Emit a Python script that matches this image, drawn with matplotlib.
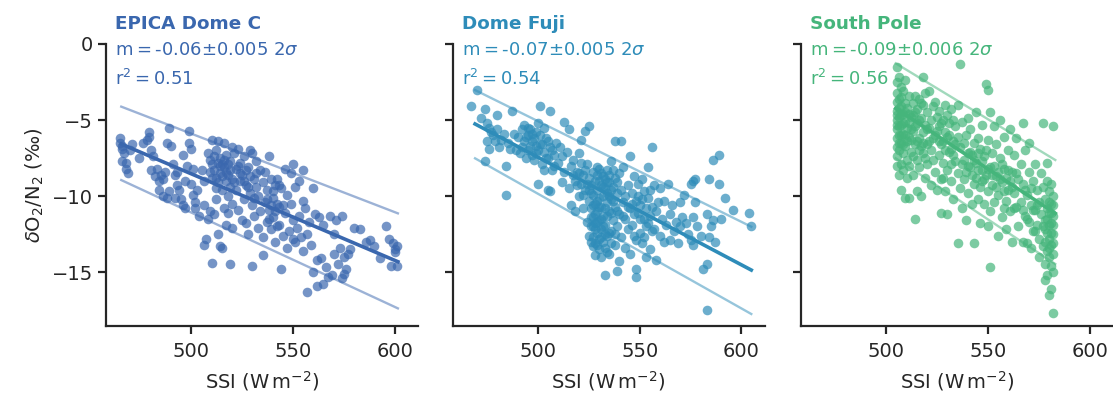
import numpy as np
import matplotlib
matplotlib.use("Agg")
from matplotlib import pyplot as plt

# ---- data ----
sites = ["EPICA Dome C", "Dome Fuji", "South Pole"]
colors = ["#3a67ae", "#2e8cb9", "#45b57b"]
slopes = ["-0.06", "-0.07", "-0.09"]
slope_err = ["0.005", "0.005", "0.006"]
r2 = ["0.51", "0.54", "0.56"]

# fit line and +-2 sigma lines: x ends, y ends
fit_x = [[465.5, 601.6], [469.0, 604.9], [504.6, 583.1]]
fit_y = [[-6.58, -14.32], [-5.26, -14.87], [-4.23, -11.14]]
upper_y = [[-4.12, -11.14], [-3.03, -12.02], [-1.27, -7.63]]
lower_y = [[-8.95, -17.39], [-7.52, -17.76], [-7.52, -14.47]]

edc_pts = [
    (465, -6.2), (465, -6.5), (466, -6.7), (466, -6.9), (467, -7.2), (466, -7.7), (468, -7.8), (468, -8.2),
    (469, -8.5), (470, -7.0), (471, -6.6), (474, -7.5),
    (476, -6.5), (478, -6.3), (479, -5.8), (479, -6.1), (480, -7.0), (481, -7.4), (480, -8.3), (482, -8.7),
    (483, -8.2), (484, -9.0), (485, -8.6), (486, -8.9), (487, -8.4), (484, -9.6), (486, -10.0), (488, -10.1),
    (489, -9.7), (489, -5.5), (490, -6.7), (488, -6.5), (491, -7.9), (492, -8.6), (493, -8.4), (493, -9.3),
    (494, -9.6), (495, -10.2), (496, -10.6), (497, -10.8), (492, -10.1),
    (496, -7.3), (497, -9.0), (498, -8.0), (499, -5.7), (499, -6.5), (500, -6.9), (501, -8.2), (500, -9.2),
    (501, -9.9), (502, -10.4), (502, -10.8), (503, -9.6), (504, -11.3), (505, -8.3), (506, -9.0), (506, -10.6),
    (506, -13.2), (507, -12.8), (508, -11.5), (510, -14.4), (509, -11.0),
    (508, -7.2), (509, -7.6), (510, -6.3), (510, -7.9), (511, -8.3), (512, -7.0), (512, -8.8), (513, -9.1),
    (513, -6.4), (514, -7.5), (514, -8.5), (515, -9.6), (515, -7.9), (516, -6.5), (516, -8.1), (517, -9.0),
    (517, -7.3), (518, -10.0), (518, -8.6), (519, -7.7), (519, -9.4), (520, -6.8), (520, -8.9), (511, -11.2),
    (512, -10.2), (513, -12.5), (514, -13.3), (515, -13.4), (516, -10.8), (517, -11.9), (518, -11.1),
    (519, -14.5), (520, -12.1), (520, -10.5),
    (509, -8.4), (510, -8.8), (511, -7.4), (512, -9.5), (513, -7.8), (514, -8.0), (515, -8.7), (516, -7.6),
    (517, -8.4), (518, -7.9), (519, -8.3), (521, -9.1),
    (521, -7.2), (522, -8.2), (522, -9.6), (523, -6.9), (523, -10.9), (524, -7.8), (524, -9.0), (525, -8.6),
    (525, -11.6), (526, -7.4), (526, -10.2), (527, -9.3), (527, -11.8), (528, -8.1), (528, -12.5), (529, -9.8),
    (529, -7.0), (530, -7.2), (530, -10.6), (530, -14.6), (531, -8.9), (531, -11.3), (532, -7.7), (532, -9.4),
    (533, -10.0), (533, -12.1), (534, -8.3), (534, -11.0), (535, -9.1), (535, -12.7), (535, -13.9),
    (523, -8.0), (524, -8.5), (526, -9.0), (527, -8.3), (528, -9.4), (529, -8.7), (531, -10.1), (532, -8.5),
    (536, -8.4), (536, -10.4), (537, -9.6), (537, -11.7), (538, -7.4), (538, -10.9), (539, -8.9), (539, -12.2),
    (540, -10.1), (540, -11.4), (541, -9.3), (541, -13.0), (542, -8.9), (542, -12.0), (543, -10.7),
    (543, -11.9), (544, -9.5), (544, -14.8), (545, -10.6), (545, -12.6), (546, -8.2), (546, -11.1),
    (547, -9.9), (547, -13.4), (548, -12.3), (549, -10.5), (550, -7.9), (550, -11.6), (550, -12.8), (549, -8.5),
    (537, -10.2), (538, -11.5), (539, -10.6), (540, -9.7), (541, -11.0), (542, -10.5), (543, -9.3),
    (551, -9.4), (551, -13.0), (552, -12.1), (553, -9.0), (553, -11.3), (554, -12.7), (555, -8.3),
    (555, -10.3), (555, -13.6), (556, -10.8), (557, -12.5), (557, -16.3), (558, -11.7), (559, -13.2),
    (560, -9.5), (560, -15.0), (561, -11.2), (562, -14.2), (562, -15.9), (563, -11.4), (564, -14.1),
    (565, -15.8), (565, -11.9),
    (566, -14.7), (567, -15.3), (568, -11.3), (569, -15.2), (570, -13.8), (570, -12.5), (571, -11.6),
    (572, -14.5), (573, -13.4), (574, -15.4), (574, -11.3), (575, -14.0), (575, -15.1), (576, -14.8),
    (577, -13.8), (578, -13.5), (580, -12.1), (583, -12.2),
    (586, -13.0), (588, -12.9), (590, -13.3), (593, -14.1), (596, -12.0), (597, -12.8), (598, -14.6),
    (599, -13.1), (600, -13.5), (601, -14.6), (601, -13.3), (600, -13.7),
]

df_pts = [
    (467, -4.1), (470, -3.0), (472, -4.9), (474, -4.3), (475, -5.2), (475, -6.4), (476, -6.9), (477, -5.8),
    (474, -7.7), (476, -5.5), (478, -6.0), (479, -6.4), (480, -5.6), (481, -6.8), (480, -4.7),
    (482, -6.3), (483, -5.9), (484, -8.0), (484, -9.9), (485, -6.5), (486, -6.9), (487, -4.4), (488, -5.9),
    (489, -7.0), (490, -6.1), (491, -7.2), (492, -5.6), (493, -6.4), (494, -7.5), (495, -6.0), (496, -6.7),
    (497, -7.3), (498, -6.2), (499, -5.8), (500, -7.0), (501, -4.1), (500, -9.2), (500, -5.2), (502, -6.6),
    (502, -7.9), (503, -8.3), (504, -6.2), (505, -9.6), (505, -7.5), (506, -4.4), (506, -9.7), (507, -7.0),
    (508, -8.0), (509, -6.5), (510, -7.8),
    (492, -6.8), (494, -6.1), (495, -7.0), (496, -5.6), (497, -6.4), (498, -7.6), (499, -6.7), (501, -6.0),
    (503, -7.1), (504, -7.5), (506, -6.8), (507, -8.3),
    (493, -5.3), (495, -5.5), (497, -5.9), (499, -7.2), (501, -6.6), (503, -5.5), (505, -6.4), (508, -7.3),
    (511, -6.8), (512, -7.4), (512, -9.1), (513, -5.1), (513, -8.4), (514, -7.1), (515, -5.6), (515, -9.5),
    (516, -10.6), (516, -8.0), (517, -7.6), (518, -9.0), (518, -11.0), (519, -8.4), (520, -7.2), (520, -10.0),
    (521, -9.2), (521, -6.3), (522, -8.6), (522, -10.8), (523, -9.6), (523, -5.7), (524, -7.9), (524, -11.7),
    (525, -10.3), (525, -8.8), (525, -5.4),
    (517, -8.6), (519, -9.3), (520, -8.5), (521, -7.8), (522, -9.9), (523, -8.3), (524, -9.2), (525, -9.6),
    (526, -9.3), (526, -10.8), (526, -12.0), (527, -8.4), (527, -9.9), (527, -11.4), (527, -12.7), (528, -9.0),
    (528, -10.5), (528, -11.8), (528, -13.1), (529, -8.6), (529, -9.6), (529, -11.0), (529, -12.4), (530, -8.2),
    (530, -10.1), (530, -11.6), (530, -13.5), (531, -9.3), (531, -10.7), (531, -12.2), (532, -8.7),
    (532, -10.0), (532, -11.3), (532, -13.0), (533, -9.5), (533, -11.9), (533, -15.2), (534, -8.3),
    (534, -10.4), (534, -12.6), (535, -9.1), (535, -11.0), (535, -13.8), (536, -7.7), (536, -10.2),
    (536, -12.3), (537, -9.4), (537, -11.6), (538, -8.8), (538, -10.7), (538, -13.2), (539, -9.8),
    (539, -12.0), (540, -8.5), (540, -11.2), (540, -14.3), (538, -6.4), (541, -6.4), (539, -14.9),
    (526, -9.8), (527, -10.6), (528, -12.2), (529, -10.3), (530, -9.0), (530, -12.8), (531, -11.5),
    (532, -9.4), (533, -10.8), (533, -12.5), (534, -11.3), (535, -10.0), (536, -11.1), (537, -10.3),
    (538, -12.5), (539, -11.0), (526, -11.4), (527, -13.3), (528, -13.9), (529, -13.2),
    (525, -12.6), (526, -13.0), (527, -12.0), (528, -11.2), (529, -11.7), (530, -10.7), (531, -12.7),
    (532, -12.0), (533, -13.4), (534, -9.8), (535, -12.4), (536, -13.1), (531, -14.0), (534, -13.7),
    (529, -8.1), (531, -8.5), (533, -8.9), (535, -8.6), (537, -8.3), (539, -9.1), (536, -9.6), (534, -9.1),
    (541, -9.6), (541, -12.7), (542, -10.4), (542, -8.1), (543, -11.5), (543, -13.4), (544, -9.3),
    (544, -12.2), (545, -7.4), (545, -10.8), (545, -13.8), (546, -9.8), (546, -11.9), (547, -8.7),
    (547, -12.6), (548, -10.3), (548, -14.8), (548, -15.3), (549, -11.1), (549, -9.2), (550, -12.4),
    (550, -10.6), (551, -8.9), (551, -13.1), (552, -11.5), (552, -9.7), (553, -12.0), (553, -14.0),
    (554, -10.1), (554, -8.1), (555, -11.3), (555, -13.5), (556, -6.8), (556, -10.7),
    (542, -11.3), (543, -10.0), (544, -10.7), (546, -10.5), (547, -11.2), (549, -10.0), (550, -11.5),
    (551, -10.2), (552, -12.7), (553, -10.8), (554, -11.8), (556, -12.3), (555, -9.6), (548, -12.9),
    (557, -9.3), (557, -12.2), (558, -11.0), (558, -14.2), (559, -10.4), (560, -12.6), (560, -9.5),
    (561, -11.5), (562, -13.0), (562, -10.3), (563, -11.9), (564, -9.2), (565, -11.2), (565, -12.9),
    (566, -10.6), (567, -12.3), (568, -11.7), (569, -13.1), (570, -10.4), (570, -12.0), (571, -11.4),
    (572, -9.9), (573, -11.8), (574, -12.5), (575, -9.2), (575, -12.9), (576, -11.4), (576, -13.2),
    (577, -10.4),
    (578, -12.0), (580, -12.6), (581, -14.8), (583, -14.5), (583, -17.5), (584, -12.7), (584, -8.9),
    (585, -12.0), (586, -11.6), (586, -7.6), (587, -13.0), (589, -7.3), (589, -9.2), (590, -11.5),
    (592, -10.1), (596, -10.9), (604, -11.1), (605, -12.0), (583, -11.2), (576, -9.0), (577, -8.9),
]

sp_pts = [
    (505, -1.5), (505, -2.5), (505, -3.2), (505, -3.8), (505, -4.4), (505, -5.0), (505, -5.6), (505, -6.2),
    (505, -6.8), (505, -7.4), (505, -8.0), (506, -2.2), (506, -3.6), (506, -4.8), (506, -6.0), (506, -7.0),
    (506, -8.6), (507, -2.8), (507, -4.1), (507, -5.3), (507, -6.5), (507, -7.9), (507, -9.6), (508, -3.1),
    (508, -4.6), (508, -5.9), (508, -7.2), (508, -8.3), (509, -2.4), (509, -3.9), (509, -5.1), (509, -6.7),
    (509, -10.1), (510, -4.2), (510, -5.5), (510, -7.6), (510, -8.8),
    (505, -4.7), (505, -5.3), (506, -4.2), (506, -5.4), (506, -6.5), (507, -3.5), (507, -4.7), (507, -6.0),
    (508, -5.2), (508, -6.6), (509, -4.5), (509, -6.0),
    (511, -3.4), (511, -6.1), (511, -8.0), (511, -10.1), (512, -4.8), (512, -7.1), (513, -5.7), (513, -3.9),
    (513, -8.6), (514, -4.5), (514, -6.6), (514, -11.5), (515, -7.6), (515, -5.2), (515, -9.7), (516, -3.6),
    (516, -6.2), (516, -8.1), (517, -4.9), (517, -10.0), (518, -2.2), (518, -7.2), (518, -5.8), (519, -3.2),
    (519, -8.8), (520, -6.6), (520, -4.5), (520, -7.9),
    (512, -5.6), (513, -4.7), (514, -5.4), (515, -4.3), (516, -5.0), (517, -6.7), (518, -4.0), (519, -5.3),
    (511, -4.6), (512, -6.3), (513, -7.4), (514, -3.4), (515, -6.4), (516, -7.0), (517, -3.9), (518, -6.5),
    (519, -7.5), (520, -5.6), (510, -6.4), (511, -5.2),
    (521, -3.1), (521, -5.5), (522, -7.0), (522, -9.3), (523, -4.1), (523, -6.2), (524, -8.4), (524, -3.8),
    (525, -5.7), (525, -9.6), (526, -7.3), (526, -4.4), (527, -6.6), (527, -8.9), (527, -11.1), (528, -5.0),
    (528, -7.8), (529, -4.0), (529, -9.7), (530, -6.1), (530, -8.3), (530, -11.2), (531, -5.2), (531, -7.1),
    (532, -4.3), (532, -9.0), (533, -6.4), (533, -10.2), (534, -7.7), (534, -5.4), (535, -8.5), (535, -13.1),
    (535, -4.0),
    (522, -5.0), (524, -6.0), (526, -5.4), (528, -6.4), (529, -7.0), (531, -6.0), (533, -7.3), (534, -6.6),
    (521, -6.4), (523, -7.6), (525, -4.8), (526, -6.4), (527, -5.2), (529, -5.8), (530, -4.7), (532, -6.9),
    (533, -5.0), (535, -6.1), (532, -7.9), (528, -8.8),
    (536, -6.8), (536, -9.5), (536, -1.3), (537, -5.1), (537, -10.8), (538, -7.6), (538, -8.9), (539, -6.0),
    (539, -11.6), (540, -4.9), (540, -8.0), (540, -9.8), (541, -7.1), (541, -5.6), (542, -10.5), (542, -8.6),
    (543, -6.5), (543, -9.2), (543, -13.1), (544, -4.5), (544, -7.8), (545, -8.3), (545, -10.2), (546, -6.9),
    (546, -11.8), (547, -9.0), (547, -5.3), (548, -7.4), (548, -10.5), (549, -8.6), (549, -2.6), (550, -3.0),
    (550, -6.3), (550, -9.7), (550, -12.0),
    (538, -6.5), (540, -7.2), (542, -7.3), (544, -8.8), (545, -6.2), (547, -7.7), (549, -7.0), (546, -9.4),
    (537, -7.9), (539, -8.4), (541, -8.1), (543, -7.6), (545, -7.2), (547, -8.3), (548, -8.9), (550, -8.2),
    (551, -4.5), (551, -8.1), (551, -11.0), (551, -14.7), (552, -7.2), (552, -9.3), (553, -5.4), (553, -10.4),
    (554, -8.7), (554, -6.6), (555, -9.9), (555, -12.6), (556, -7.5), (556, -5.0), (557, -9.1), (557, -11.4),
    (558, -8.2), (558, -6.1), (559, -10.3), (559, -12.2), (560, -7.0), (560, -9.6), (561, -5.6), (561, -11.0),
    (562, -8.4), (562, -13.0), (563, -9.8), (563, -7.3), (564, -10.7), (564, -6.2), (565, -8.9), (565, -12.0),
    (553, -8.0), (555, -8.4), (557, -7.9), (559, -8.8), (561, -9.0), (563, -10.8),
    (552, -8.6), (554, -9.4), (556, -8.9), (558, -9.7), (560, -8.3), (562, -9.4), (564, -8.5), (558, -10.8),
    (566, -7.9), (566, -10.4), (567, -9.2), (567, -13.0), (567, -5.2), (568, -11.3), (568, -7.0), (569, -9.9),
    (569, -13.1), (570, -8.4), (570, -11.7), (570, -6.5), (571, -10.6), (571, -13.4), (572, -9.0),
    (572, -12.3), (573, -10.9), (573, -7.9), (574, -11.9), (574, -9.6), (575, -12.8), (575, -10.4),
    (575, -14.0), (576, -11.2), (576, -8.5),
    (567, -10.9), (568, -9.6), (569, -11.5), (571, -9.5), (572, -10.9), (573, -12.3), (574, -10.6),
    (577, -9.4), (577, -12.0), (577, -13.3), (578, -10.2), (578, -11.6), (578, -13.0), (578, -14.5),
    (578, -15.5), (579, -9.0), (579, -10.8), (579, -12.4), (579, -13.6), (579, -15.2), (580, -9.7),
    (580, -11.1), (580, -12.8), (580, -14.0), (580, -16.5), (581, -9.2), (581, -10.5), (581, -11.8),
    (581, -13.2), (581, -14.6), (581, -16.1), (582, -10.0), (582, -11.3), (582, -12.5), (582, -13.8),
    (582, -15.0), (582, -17.7), (582, -5.4), (577, -5.2), (579, -7.8),
    (578, -12.2), (579, -11.5), (580, -10.4), (581, -12.4), (582, -10.6), (582, -11.9), (582, -13.1),
    (581, -11.1), (580, -11.9), (580, -13.4),
]

all_pts = [edc_pts, df_pts, sp_pts]

# ---- style ----
plt.rcParams['font.family'] = ['DejaVu Sans']
plt.rcParams['mathtext.fontset'] = 'dejavusans'
plt.rcParams['axes.edgecolor'] = '#262626'
plt.rcParams['axes.linewidth'] = 1.6
plt.rcParams['xtick.color'] = '#262626'
plt.rcParams['ytick.color'] = '#262626'
plt.rcParams['xtick.labelsize'] = 14
plt.rcParams['ytick.labelsize'] = 14
plt.rcParams['xtick.major.size'] = 6
plt.rcParams['ytick.major.size'] = 6
plt.rcParams['xtick.major.width'] = 1.6
plt.rcParams['ytick.major.width'] = 1.6
plt.rcParams['xtick.major.pad'] = 5.5

fig = plt.figure(figsize=(11.13, 3.97), dpi=100)
lefts = [106, 452.7, 801]
axes = []
for i in range(3):
    ax = fig.add_axes([lefts[i] / 1113, 71 / 397, 312 / 1113, 282 / 397],
                      sharey=axes[0] if axes else None)
    axes.append(ax)

for i, ax in enumerate(axes):
    pts = np.array(all_pts[i])
    c = colors[i]
    ax.scatter(pts[:, 0], pts[:, 1], s=48, color=c, alpha=0.7, linewidths=0, zorder=2)
    ax.plot(fit_x[i], fit_y[i], color=c, lw=2.6, zorder=3)
    ax.plot(fit_x[i], upper_y[i], color=c, lw=1.7, alpha=0.5, zorder=3)
    ax.plot(fit_x[i], lower_y[i], color=c, lw=1.7, alpha=0.5, zorder=3)

    ax.set_xlim(458, 611.5)
    ax.set_ylim(-18.55, 0)
    ax.set_xticks([500, 550, 600])
    ax.set_yticks([0, -5, -10, -15])
    ax.spines['top'].set_visible(False)
    ax.spines['right'].set_visible(False)
    ax.set_xlabel(r'SSI (W$\,$m$^{-2}$)', fontsize=14, color='#262626', labelpad=6)
    ax.text(0.03, 1.04, sites[i], transform=ax.transAxes, fontsize=13.2,
            fontweight='bold', color=c, va='bottom', ha='left')
    ax.text(0.03, 1.01, r'm$=$' + slopes[i] + r'$\pm$' + slope_err[i] + r' 2$\sigma$',
            transform=ax.transAxes, color=c, fontsize=13, va='top', ha='left')
    ax.text(0.03, 0.91, r'r$^2=$' + r2[i],
            transform=ax.transAxes, color=c, fontsize=13, va='top', ha='left')
    if i > 0:
        plt.setp(ax.get_yticklabels(), visible=False)

axes[0].set_ylabel(r'$\delta$O$_2$/N$_2$ (‰)', fontsize=14, color='#262626')

fig.savefig('out.png', dpi=100)
